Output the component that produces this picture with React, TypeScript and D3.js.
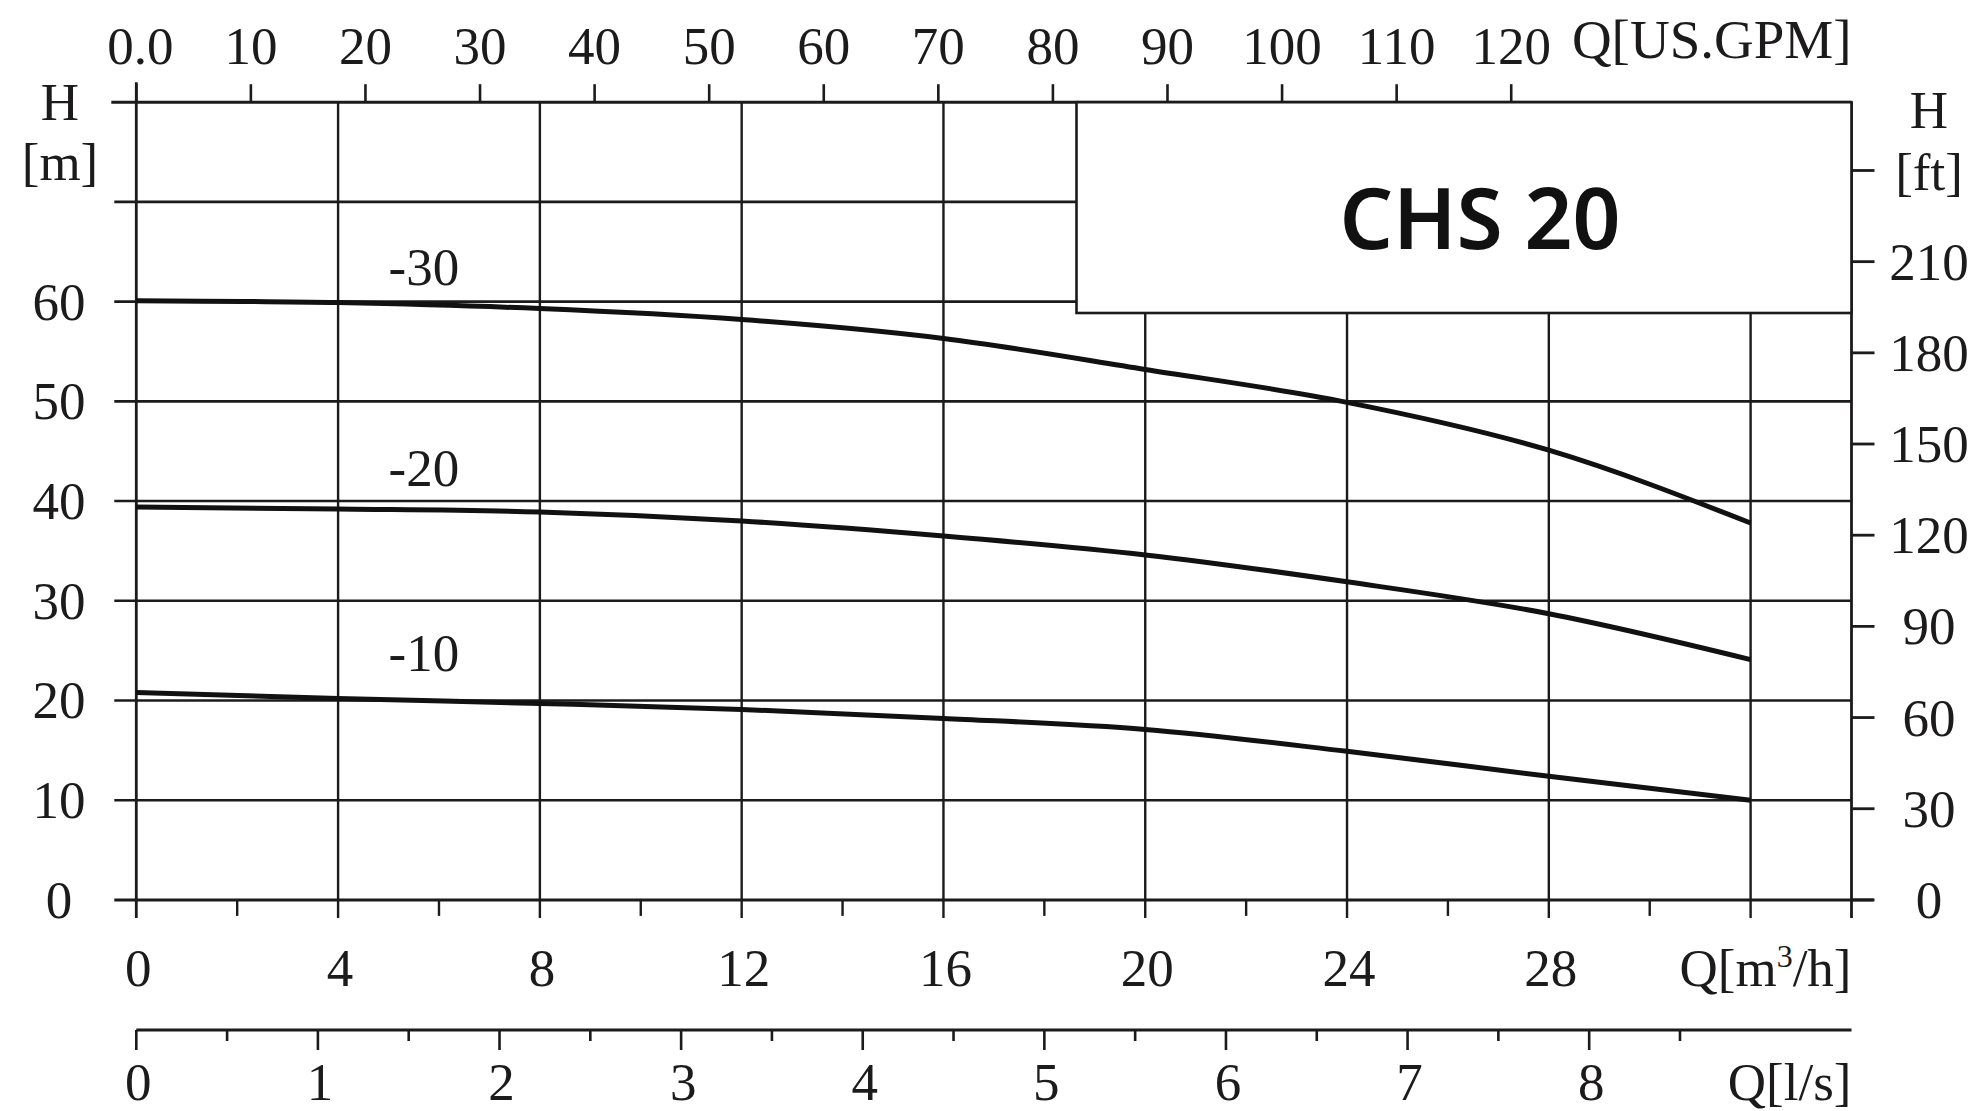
import React from "react";
import * as d3 from "d3";

const flowM3h = [0, 4, 8, 12, 16, 20, 24, 28, 32];
const head30 = [60.1, 59.9, 59.3, 58.2, 56.3, 53.2, 49.9, 45.1, 37.8];
const head20 = [39.4, 39.2, 38.9, 38.0, 36.5, 34.6, 31.9, 28.7, 24.1];
const head10 = [20.8, 20.2, 19.7, 19.1, 18.2, 17.1, 14.9, 12.4, 10.0];
const seriesNames = ["-30", "-20", "-10"];
const labelPos = [
  [5.7, 61.7],
  [5.7, 41.5],
  [5.7, 23.0],
];
const m3hTicks = [0, 4, 8, 12, 16, 20, 24, 28];
const m3hMinor = [2, 6, 10, 14, 18, 22, 26, 30];
const gridX = [4, 8, 12, 16, 20, 24, 28, 32];
const hTicks = [0, 10, 20, 30, 40, 50, 60];
const hGrid = [10, 20, 30, 40, 50, 60, 70];
const gpmTicks = [0, 10, 20, 30, 40, 50, 60, 70, 80, 90, 100, 110, 120];
const ftTicks = [0, 30, 60, 90, 120, 150, 180, 210, 240];
const ftLabels = [0, 30, 60, 90, 120, 150, 180, 210];
const lsTicks = [0, 1, 2, 3, 4, 5, 6, 7, 8];
const lsMinor = [0.5, 1.5, 2.5, 3.5, 4.5, 5.5, 6.5, 7.5, 8.5];
const title = "CHS 20";

const W = 1979;
const H = 1111;
const X0 = 136.3;
const X1 = 1851.5;
const YB = 899.9;
const YT = 102.2;
const C = "#1c1a1a";
const serif = "'Liberation Serif', 'Times New Roman', serif";
const FS = 53;

export default function App() {
  const x = d3.scaleLinear().domain([0, 34]).range([X0, X1]);
  const y = d3.scaleLinear().domain([0, 80]).range([YB, YT]);
  const xGpm = (g: number) => x(g / 4.4029);
  const yFt = (f: number) => y(f * 0.3048);
  const xLs = (l: number) => x(l * 3.6);
  const line = d3
    .line<number>()
    .x((_, i) => x(flowM3h[i]))
    .y((d) => y(d))
    .curve(d3.curveMonotoneX);
  const series = [head30, head20, head10];
  const lsY = 1030;
  const boxX = 1076.5;
  const boxY2 = 313;

  return (
    <svg
      width={W}
      height={H}
      style={{ position: "absolute", left: 0, top: 0, background: "#fff" }}
      fontFamily={serif}
    >
      <rect x={0} y={0} width={W} height={H} fill="#fff" />
      {/* horizontal grid */}
      {hGrid.map((h) => (
        <line key={"hg" + h} x1={x(0) - 22} x2={X1} y1={y(h)} y2={y(h)} stroke={C} strokeWidth={2.6} />
      ))}
      {/* vertical grid */}
      {gridX.map((q) => (
        <line key={"vg" + q} x1={x(q)} x2={x(q)} y1={YT} y2={YB + 18} stroke={C} strokeWidth={2.4} />
      ))}
      {m3hMinor.map((q) => (
        <line key={"mn" + q} x1={x(q)} x2={x(q)} y1={YB} y2={YB + 16} stroke={C} strokeWidth={2.4} />
      ))}
      {/* frame */}
      <line x1={x(0)} x2={x(0)} y1={YT - 20} y2={YB + 18} stroke={C} strokeWidth={2.8} />
      <line x1={X1} x2={X1} y1={YT} y2={YB + 18} stroke={C} strokeWidth={2.8} />
      <line x1={x(0) - 25} x2={X1} y1={YT} y2={YT} stroke={C} strokeWidth={3} />
      <line x1={x(0) - 22} x2={X1 + 22} y1={YB} y2={YB} stroke={C} strokeWidth={3} />
      {/* curves */}
      {series.map((s, i) => (
        <path key={"c" + i} d={line(s) || ""} fill="none" stroke="#111" strokeWidth={5} />
      ))}
      {series.map((_, i) => (
        <text key={"cl" + i} x={x(labelPos[i][0])} y={y(labelPos[i][1])} fontSize={FS} textAnchor="middle" fill={C}>
          {seriesNames[i]}
        </text>
      ))}
      {/* title box */}
      <rect x={boxX} y={YT} width={X1 - boxX} height={boxY2 - YT} fill="#fff" stroke={C} strokeWidth={2.6} />
      <text
        x={1480}
        y={249}
        fontSize={84}
        fontFamily="'Noto Sans', 'Open Sans', sans-serif"
        fontWeight={600}
        textAnchor="middle"
        fill="#111"
      >
        {title}
      </text>
      {/* left axis labels */}
      {hTicks.map((h) => (
        <text key={"hl" + h} x={59} y={y(h) + 18} fontSize={FS} textAnchor="middle" fill={C}>
          {h}
        </text>
      ))}
      <text x={60} y={120} fontSize={FS} textAnchor="middle" fill={C}>H</text>
      <text x={60} y={180} fontSize={FS} textAnchor="middle" fill={C}>[m]</text>
      {/* right axis */}
      {ftTicks.map((f) => (
        <line key={"ft" + f} x1={X1} x2={X1 + 23} y1={yFt(f)} y2={yFt(f)} stroke={C} strokeWidth={2.8} />
      ))}
      {ftLabels.map((f) => (
        <text key={"fl" + f} x={1929} y={yFt(f) + 18} fontSize={FS} textAnchor="middle" fill={C}>
          {f}
        </text>
      ))}
      <text x={1929} y={128} fontSize={FS} textAnchor="middle" fill={C}>H</text>
      <text x={1929} y={190} fontSize={FS} textAnchor="middle" fill={C}>[ft]</text>
      {/* top GPM axis */}
      {gpmTicks.map((g) => (
        <line key={"gt" + g} x1={xGpm(g)} x2={xGpm(g)} y1={YT} y2={YT - 18} stroke={C} strokeWidth={2.6} />
      ))}
      {gpmTicks.map((g) => (
        <text key={"gl" + g} x={xGpm(g) + (g === 0 ? 4 : 0)} y={64} fontSize={FS} textAnchor="middle" fill={C}>
          {g === 0 ? "0.0" : g}
        </text>
      ))}
      <text x={X1} y={58} fontSize={FS + 2} textAnchor="end" fill={C}>Q[US.GPM]</text>
      {/* bottom m3/h labels */}
      {m3hTicks.map((q) => (
        <text key={"ql" + q} x={x(q) + 2} y={986} fontSize={FS} textAnchor="middle" fill={C}>
          {q}
        </text>
      ))}
      <text x={X1} y={986} fontSize={FS} textAnchor="end" fill={C}>
        Q[m<tspan dy={-19} fontSize={32}>3</tspan>
        <tspan dy={19}>/h]</tspan>
      </text>
      {/* l/s axis */}
      <line x1={x(0)} x2={X1} y1={lsY} y2={lsY} stroke={C} strokeWidth={3} />
      {lsTicks.map((l) => (
        <line key={"lt" + l} x1={xLs(l)} x2={xLs(l)} y1={lsY} y2={lsY + 20} stroke={C} strokeWidth={2.6} />
      ))}
      {lsMinor.map((l) => (
        <line key={"lm" + l} x1={xLs(l)} x2={xLs(l)} y1={lsY} y2={lsY + 11} stroke={C} strokeWidth={2.6} />
      ))}
      {lsTicks.map((l) => (
        <text key={"ll" + l} x={xLs(l) + 2} y={1100} fontSize={FS} textAnchor="middle" fill={C}>
          {l}
        </text>
      ))}
      <text x={X1} y={1100} fontSize={FS} textAnchor="end" fill={C}>Q[l/s]</text>
    </svg>
  );
}
